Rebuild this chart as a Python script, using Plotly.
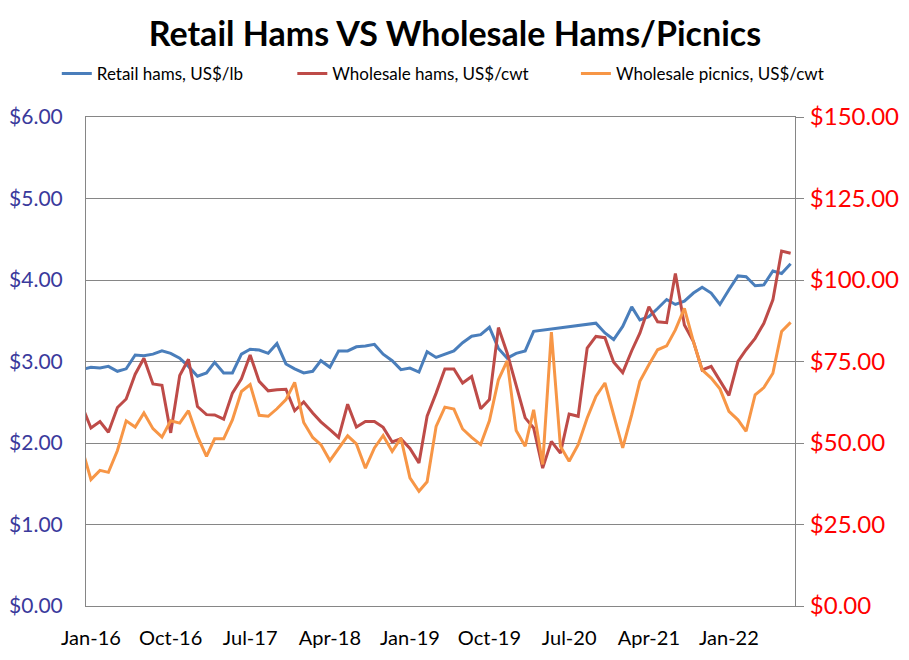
import plotly.graph_objects as go
import pandas as pd

# Monthly dates: Dec-15 (partly clipped at the left edge) through Aug-22
months = pd.date_range("2015-12-01", "2022-08-01", freq="MS").strftime("%Y-%m-%d").tolist()

# Retail hams, US$/lb (None = no observation; line is connected across the gap)
retail_hams = [
    2.90,
    2.93, 2.92, 2.94, 2.88, 2.91, 3.08, 3.07, 3.09, 3.13, 3.10,
    3.04, 2.94, 2.82, 2.86, 2.99, 2.86, 2.86, 3.09, 3.15, 3.14,
    3.10, 3.22, 2.97, 2.91, 2.86, 2.88, 3.01, 2.93, 3.13, 3.13,
    3.18, 3.19, 3.21, 3.09, 3.01, 2.90, 2.92, 2.87, 3.12, 3.05,
    3.09, 3.13, 3.23, 3.31, 3.33, 3.42, 3.16, 3.04, 3.10, 3.13,
    3.37, None, None, None, None, None, None, 3.47, 3.35, 3.27,
    3.43, 3.67, 3.51, 3.55, 3.65, 3.76, 3.70, 3.74, 3.84, 3.91,
    3.84, 3.70, 3.88, 4.05, 4.04, 3.93, 3.94, 4.11, 4.08, 4.20,
]

# Wholesale hams, US$/cwt
wholesale_hams = [
    61.4,
    54.6, 56.6, 53.3, 60.9, 63.5, 71.1, 76.0, 68.1, 67.7, 53.1,
    70.7, 75.7, 61.2, 58.7, 58.6, 57.3, 65.3, 69.7, 77.0, 68.9,
    66.0, 66.3, 66.5, 59.9, 62.6, 59.2, 56.5, 54.1, 51.7, 61.9,
    54.9, 56.6, 56.6, 54.8, 50.3, 51.3, 48.3, 43.9, 58.2, 65.3,
    72.7, 72.7, 68.4, 70.4, 60.5, 63.3, 85.4, 77.6, 67.9, 57.7,
    54.6, 42.3, 50.5, 46.9, 58.9, 58.2, 79.1, 82.7, 82.3, 74.8,
    71.6, 78.3, 83.7, 91.8, 87.2, 86.9, 102.0, 86.2, 81.1, 72.4,
    73.5, 68.9, 64.6, 75.0, 78.6, 82.1, 86.7, 93.9, 108.9, 108.2,
]

# Wholesale picnics, US$/cwt
wholesale_picnics = [
    48.4,
    38.8, 41.6, 41.0, 47.7, 56.8, 54.9, 59.2, 54.4, 51.8, 56.8,
    56.1, 59.9, 52.0, 45.9, 51.3, 51.3, 57.1, 65.8, 67.9, 58.5,
    58.2, 60.5, 63.3, 68.6, 56.3, 51.7, 49.5, 44.6, 48.5, 52.2,
    49.7, 42.3, 48.5, 52.3, 47.4, 51.5, 39.3, 35.2, 38.1, 55.1,
    61.0, 60.4, 54.3, 51.7, 49.5, 56.8, 69.4, 75.2, 53.8, 49.0,
    60.2, 43.4, 84.0, 49.0, 44.4, 49.5, 57.7, 64.3, 68.4, 58.7,
    48.5, 58.7, 68.9, 74.0, 78.6, 79.8, 84.7, 91.3, 81.1, 72.4,
    69.9, 66.6, 59.7, 57.1, 53.6, 64.8, 67.0, 71.4, 84.2, 87.0,
]

series_names = ["Retail hams, US$/lb", "Wholesale hams, US$/cwt", "Wholesale picnics, US$/cwt"]
series_colors = ["#4A7EBB", "#BE4B48", "#F79646"]

FONT = "Lato, Carlito, Calibri, sans-serif"
GRID = "#868686"

fig = go.Figure()
fig.add_trace(go.Scatter(x=months, y=retail_hams, name=series_names[0], mode="lines",
                         line=dict(color=series_colors[0], width=3), connectgaps=True,
                         yaxis="y", legend="legend", showlegend=True))
fig.add_trace(go.Scatter(x=months, y=wholesale_hams, name=series_names[1], mode="lines",
                         line=dict(color=series_colors[1], width=3),
                         yaxis="y2", legend="legend2", showlegend=True))
fig.add_trace(go.Scatter(x=months, y=wholesale_picnics, name=series_names[2], mode="lines",
                         line=dict(color=series_colors[2], width=3),
                         yaxis="y2", legend="legend3", showlegend=True))

leg_common = dict(orientation="h", y=1.088, yanchor="middle", xanchor="left", visible=True,
                  bgcolor="rgba(0,0,0,0)", font=dict(family=FONT, size=17, color="#000000"),
                  itemwidth=30)

fig.update_layout(
    width=909, height=660,
    showlegend=True,
    # the page body adds an 8px offset, so the figure is shifted up/left by 8px
    margin=dict(l=78, r=122, t=109, b=62, autoexpand=False),
    paper_bgcolor="white", plot_bgcolor="white",
    title=dict(text="<b>Retail Hams VS Wholesale Hams/Picnics</b>", x=0.4917, xanchor="center",
               y=0.961, yanchor="middle", font=dict(family=FONT, size=34, color="#000000")),
    legend=dict(x=-0.0412, **leg_common),
    legend2=dict(x=0.291, **leg_common),
    legend3=dict(x=0.691, **leg_common),
    xaxis=dict(type="date", range=["2015-12-15", "2022-08-16"], automargin=False,
               tick0="2016-01-01", dtick="M9", tickformat="%b-%y",
               showgrid=False, showline=True, linecolor=GRID, linewidth=1, mirror=True,
               ticks="", ticklabelstandoff=14,
               tickfont=dict(family=FONT, size=20, color="#000000")),
    yaxis=dict(range=[0, 6], dtick=1, tickprefix="$", tickformat=".2f", automargin=False,
               showgrid=True, gridcolor=GRID, gridwidth=1,
               showline=True, linecolor=GRID, linewidth=1, zeroline=False,
               ticks="", ticklabelstandoff=18,
               tickfont=dict(family=FONT, size=21, color="#3A3A9C")),
    yaxis2=dict(range=[0, 150], dtick=25, tickprefix="$", tickformat=".2f", automargin=False,
                overlaying="y", side="right", showgrid=False, zeroline=False,
                showline=True, linecolor=GRID, linewidth=1,
                ticks="outside", ticklen=8, tickcolor=GRID, ticklabelstandoff=1,
                tickfont=dict(family=FONT, size=24, color="#FF0000")),
)

fig.write_html("out.html")
